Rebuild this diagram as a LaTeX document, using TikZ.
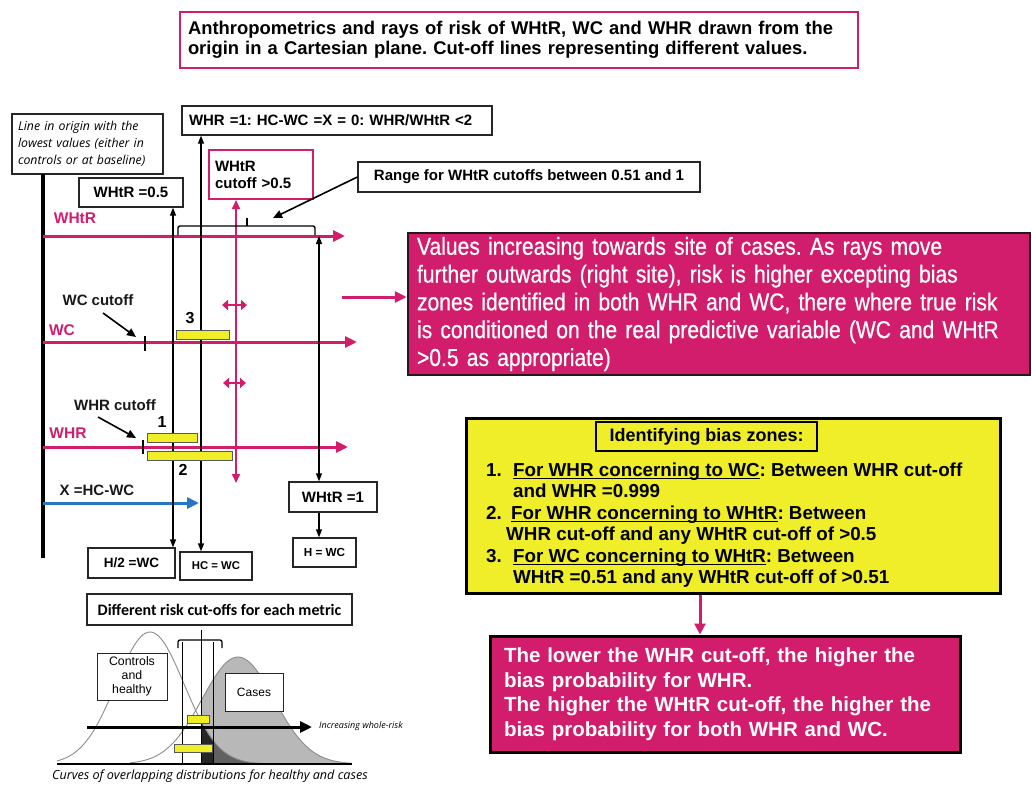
\documentclass[tikz,border=0pt]{standalone}
\usepackage{fontspec}
\setmainfont{Liberation Sans}
\newfontfamily\narrowfont{Liberation Sans}[FakeStretch=0.86,FakeBold=0.6]
\newfontfamily\osfont{Open Sans}
\newfontfamily\calfont{Carlito}
\usetikzlibrary{arrows.meta}
\definecolor{mag}{RGB}{210,28,108}
\definecolor{yel}{RGB}{240,238,40}
\definecolor{blu}{RGB}{38,118,196}
\definecolor{dkb}{RGB}{35,25,30}
\newcommand\myul[1]{\setbox0\hbox{#1}\rlap{\rule[-3pt]{\wd0}{1.4pt}}\box0}
\frenchspacing
\begin{document}
\begin{tikzpicture}[x=1pt,y=-1pt,
  box/.style={draw=black!85, line width=1.3pt, fill=white, inner sep=0pt, align=center,
    font=\bfseries\fontsize{15}{17}\selectfont},
  ray/.style={draw=mag, line width=3pt, -{Triangle[length=12pt,width=11pt]}},
  bray/.style={draw=blu, line width=3pt, -{Triangle[length=12pt,width=11pt]}},
  vl/.style={draw=black, line width=1.3pt, {Triangle[length=8pt,width=6pt]}-{Triangle[length=8pt,width=6pt]}},
  sl/.style={draw=black, line width=1.3pt, -{Triangle[length=8pt,width=6pt]}},
  ptr/.style={draw=black, line width=1.6pt, -{Triangle[length=9pt,width=8pt]}},
  dbl/.style={draw=mag, line width=2.2pt, {Triangle[length=6pt,width=10pt]}-{Triangle[length=6pt,width=10pt]}},
  bar/.style={fill=yel, draw=black!65, line width=0.7pt},
  mlbl/.style={text=mag, font=\bfseries\fontsize{15.5}{17}\selectfont, inner sep=0pt},
  klbl/.style={text=black!90, font=\bfseries\fontsize{15}{17}\selectfont, inner sep=0pt},
  ylin/.style={anchor=base west, inner sep=0pt, font=\bfseries\fontsize{18.8}{21}\selectfont},
  curve/.style={draw=black!45, line width=0.9pt}
]
\useasboundingbox (0,0) rectangle (1032,784);

% ---------- title
\node[draw=mag, line width=2.5pt, fill=white, minimum width=678pt, minimum height=56pt,
  text width=662pt, inner xsep=8pt, inner ysep=0pt, align=left,
  font=\bfseries\fontsize{18.4}{20.5}\selectfont] (title) at (519,40)
  {Anthropometrics and rays of risk of WHtR, WC and WHR drawn from the\\
   origin in a Cartesian plane. Cut-off lines representing different values.};

% ---------- boxes upper left
\node[box, minimum width=151pt, minimum height=60pt, text width=139pt, inner xsep=6pt, align=left,
  font=\osfont\itshape\fontsize{12.3}{17}\selectfont] (orig) at (87.5,144)
  {Line in origin with the\\ lowest values (either in\\ controls or at baseline)};
\node[box, minimum width=310pt, minimum height=29pt, text width=296pt, inner xsep=7pt, align=left] (whr1) at (337,120.5)
  {WHR =1: HC-WC =X = 0: WHR/WHtR {<}2};
\node[box, draw=mag, line width=2pt, minimum width=104pt, minimum height=49pt, text width=92pt, inner xsep=6pt, align=left] (cut05) at (261,174.5)
  {WHtR\\ cutoff {>}0.5};
\node[box, minimum width=104pt, minimum height=29pt] (w05) at (131,192.5) {WHtR =0.5};
\node[box, minimum width=342pt, minimum height=30pt] (range) at (529,177) {Range for WHtR cutoffs between 0.51 and 1};
\node[box, minimum width=88pt, minimum height=30pt] (w1) at (333,497) {WHtR =1};
\node[box, minimum width=63pt, minimum height=29pt, font=\bfseries\fontsize{11.7}{13}\selectfont] (hwc) at (324.5,552.5) {H = WC};
\node[box, minimum width=87pt, minimum height=30pt, font=\bfseries\fontsize{13.5}{15}\selectfont] (h2) at (131.5,563) {H/2 =WC};
\node[box, minimum width=72pt, minimum height=28pt, font=\bfseries\fontsize{11.3}{13}\selectfont] (hcwc) at (216,566) {HC = WC};

% ---------- origin line and rays
\coordinate (otop) at (43,174);
\coordinate (obot) at (43,558);
\draw[line width=4pt] (otop) -- (obot);
\coordinate (o1) at (43,236); \coordinate (e1) at (345,236);
\coordinate (o2) at (43,342); \coordinate (e2) at (357,342);
\coordinate (o3) at (43,447); \coordinate (e3) at (348,447);
\coordinate (o4) at (43,503); \coordinate (e4) at (199,503);
\draw[ray] (o1) -- (e1);
\draw[ray] (o2) -- (e2);
\draw[ray] (o3) -- (e3);
\draw[bray] (o4) -- (e4);

\node[mlbl] (lwhtr) at (75,218) {WHtR};
\node[mlbl] (lwc) at (62,330) {WC};
\node[mlbl] (lwhr) at (68,433) {WHR};
\node[klbl] (lx) at (97,490) {X =HC-WC};
\node[klbl] (lwccut) at (98,300) {WC cutoff};
\node[klbl] (lwhrcut) at (115,405) {WHR cutoff};

% vertical cut-off lines
\coordinate (v1) at (173,0);
\coordinate (v2) at (201,0);
\coordinate (vm) at (236,0);
\coordinate (v3) at (319,0);
\coordinate (vmb) at (236,483);
\draw[vl] (v1 |- w05.south) -- (v1 |- h2.north);
\draw[vl] (v2 |- whr1.south) -- (v2 |- hcwc.north);
\draw[draw=mag, line width=2pt, {Triangle[length=9pt,width=8pt]}-{Triangle[length=9pt,width=8pt]}] (vm |- cut05.south) -- (vmb);
\draw[vl] (v3 |- e1) -- (v3 |- w1.north);
\draw[sl] (v3 |- w1.south) -- (v3 |- hwc.north);

% brace for range
\coordinate (brL) at (178,235);
\coordinate (brR) at (315,235);
\coordinate (brtick) at (247,218);
\draw[line width=1.4pt, rounded corners=2pt] (brL) -- (178,226) -- (315,226) -- (brR);
\draw[line width=1.2pt] (247,226) -- (brtick);
\coordinate (rangetip) at (273,218);
\draw[ptr] (range.west) -- (rangetip);

% cutoff pointers and ticks
\coordinate (wcp1) at (103,313); \coordinate (wcp2) at (136,337);
\draw[ptr] (wcp1) -- (wcp2);
\draw[line width=2.6pt] (145,336) -- (145,351);
\coordinate (whp1) at (98,417); \coordinate (whp2) at (136,438);
\draw[ptr] (whp1) -- (whp2);
\draw[line width=2.6pt] (143,440) -- (143,454);

% bias bars
\draw[bar] (176,330) rectangle (229,339);
\draw[bar] (147,433) rectangle (197,442);
\draw[bar] (147,451) rectangle (232,460);
\node[font=\bfseries\fontsize{16}{18}\selectfont, inner sep=0pt] (n3) at (190,318) {3};
\node[font=\bfseries\fontsize{16}{18}\selectfont, inner sep=0pt] (n1) at (162,422) {1};
\node[font=\bfseries\fontsize{16}{18}\selectfont, inner sep=0pt] (n2) at (183,470) {2};

% small double arrows
\coordinate (da1) at (222,305); \coordinate (db1) at (247,305);
\coordinate (da2) at (223,383); \coordinate (db2) at (246,383);
\draw[dbl] (da1) -- (db1);
\draw[dbl] (da2) -- (db2);

% ---------- right magenta box
\node[draw=dkb, line width=2.5pt, fill=mag, minimum width=622pt, minimum height=142pt,
  text width=604pt, inner xsep=9pt, inner ysep=0pt, align=left, text=white,
  font=\narrowfont\fontsize{24.5}{27.8}\selectfont] (rbox) at (719,304)
  {Values increasing towards site of cases. As rays move\\
   further outwards (right site), risk is higher excepting bias\\
   zones identified in both WHR and WC, there where true risk\\
   is conditioned on the real predictive variable (WC and WHtR\\
   {>}0.5 as appropriate)};
\coordinate (rarrS) at (342,297);
\draw[draw=mag, line width=3pt, -{Triangle[length=12pt,width=11pt]}] (rarrS) -- (rbox.west |- rarrS);

% ---------- yellow box
\node[draw=black, line width=3pt, fill=yel, minimum width=534pt, minimum height=175pt, inner sep=0pt] (ybox) at (733,505.5) {};
\node[box, fill=yel, draw=black, line width=1.5pt, minimum width=221pt, minimum height=29pt,
  font=\bfseries\fontsize{18}{20}\selectfont] (ident) at (706.5,436.5) {Identifying bias zones:};
\node[ylin] (l1n) at (486,476) {1.};
\node[ylin] (l1) at (513,476) {\myul{For WHR concerning to WC}: Between WHR cut-off};
\node[ylin] (l2) at (513,497) {and WHR =0.999};
\node[ylin] (l3n) at (486,519) {2.};
\node[ylin] (l3) at (511,519) {\myul{For WHR concerning to WHtR}: Between};
\node[ylin] (l4) at (506,540) {WHR cut-off and any WHtR cut-off of {>}0.5};
\node[ylin] (l5n) at (486,562) {3.};
\node[ylin] (l5) at (513,562) {\myul{For WC concerning to WHtR}: Between};
\node[ylin] (l6) at (513,583) {WHtR =0.51 and any WHtR cut-off of {>}0.51};

% ---------- bottom magenta box
\node[draw=black, line width=3pt, fill=mag, minimum width=470pt, minimum height=116pt,
  text width=442pt, inner xsep=14pt, inner ysep=0pt, align=left, text=white,
  font=\bfseries\fontsize{20.5}{24.5}\selectfont] (bbox) at (725,694)
  {The lower the WHR cut-off, the higher the\\
   bias probability for WHR.\\
   The higher the WHtR cut-off, the higher the\\
   bias probability for both WHR and WC.};
\draw[draw=mag, line width=3pt, -{Triangle[length=11pt,width=11pt]}] (ybox.south -| bbox.north) ++(-25,0) coordinate (yb) -- (yb |- bbox.north);

% ---------- distributions
\node[box, minimum width=265pt, minimum height=31pt, font=\calfont\bfseries\fontsize{16}{18}\selectfont] (diff) at (219.5,609.5)
  {Different risk cut-offs for each metric};
\fill[black!28] (201,764) -- plot[domain=201:352,samples=60] (\x,{764-107*exp(-((\x-238)/36)^2/2)}) -- (352,764) -- cycle;
\fill[black!62] (201,764) -- plot[domain=201:300,samples=50] (\x,{764-132*exp(-((\x-150)/34)^2/2)}) -- (300,764) -- cycle;
\fill[black!85] (201,764) -- plot[domain=201:213,samples=10] (\x,{764-132*exp(-((\x-150)/34)^2/2)}) -- (213,764) -- cycle;
\draw[curve] plot[domain=57:320,samples=120] (\x,{764-132*exp(-((\x-150)/34)^2/2)});
\draw[curve] plot[domain=130:352,samples=100] (\x,{764-107*exp(-((\x-238)/36)^2/2)});
\coordinate (bl) at (57,764); \coordinate (br) at (352,764);
\draw[line width=1.5pt] (bl) -- (br);
\draw[line width=0.9pt] (182,764) -- (182,642);
\draw[line width=0.9pt] (213,764) -- (213,642);
\draw[line width=0.9pt] (201,764) -- (201,630);
\draw[line width=1.3pt, rounded corners=2pt] (178,648) -- (178,640) -- (222,640) -- (222,648);
\node[box, line width=1pt, minimum width=70pt, minimum height=47pt, font=\fontsize{12.3}{14}\selectfont] (ctrl) at (132,676.5)
  {Controls\\ and\\ healthy};
\node[box, line width=1pt, minimum width=58pt, minimum height=38pt, font=\fontsize{12}{14}\selectfont] (cases) at (254,692) {Cases};
\coordinate (ia) at (87,727); \coordinate (ib) at (312,727);
\draw[line width=3pt, -{Triangle[length=12pt,width=11pt]}] (ia) -- (ib);
\node[anchor=west, inner sep=0pt, font=\osfont\itshape\fontsize{9}{11}\selectfont] (inc) at (319,726) {Increasing whole-risk};
\draw[bar] (187,715) rectangle (209,723);
\draw[bar] (174,744) rectangle (212,752);
\node[inner sep=0pt, font=\osfont\itshape\fontsize{12.6}{14}\selectfont] (curves) at (210,776)
  {Curves of overlapping distributions for healthy and cases};
\end{tikzpicture}
\end{document}
